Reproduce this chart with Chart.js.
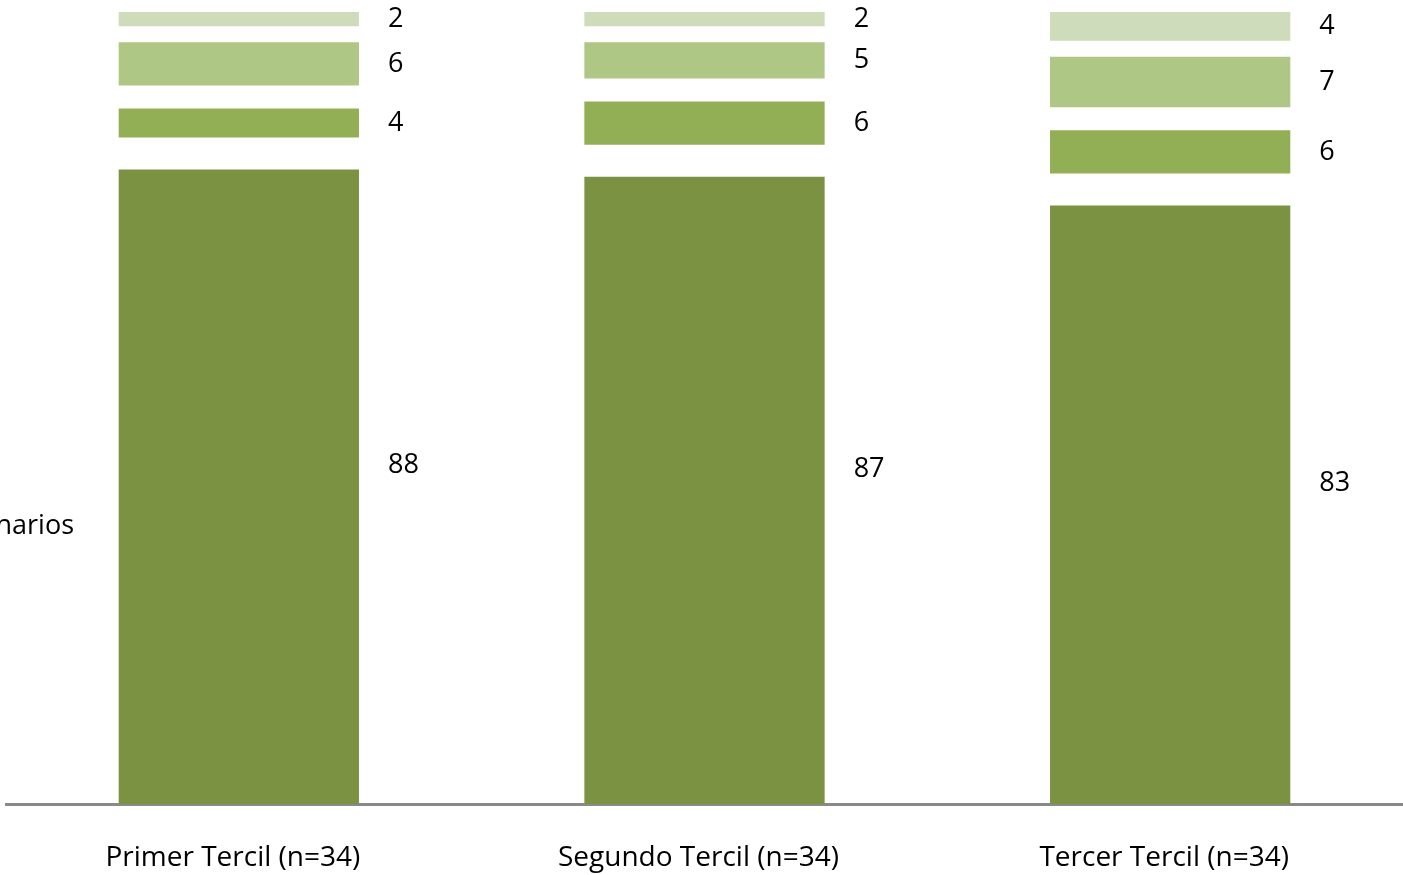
<!DOCTYPE html>
<html>
<head>
<meta charset="utf-8">
<script src="https://cdn.jsdelivr.net/npm/chart.js@4/dist/chart.umd.min.js"></script>
<style>
  html, body { margin:0; padding:0; background:#fff; }
  #wrap { width:1403px; height:875px; position:relative; }
</style>
</head>
<body>
<div id="wrap"><canvas id="terciles"></canvas></div>
<script>
// data
const categories = ['Primer Tercil (n=34)', 'Segundo Tercil (n=34)', 'Tercer Tercil (n=34)'];
const serie1 = [88, 87, 83];
const serie2 = [4, 6, 6];
const serie3 = [6, 5, 7];
const serie4 = [2, 2, 4];
const legendTail = 'narios'; // legend text, cut off at the left edge

const FONT = '"Open Sans", sans-serif';
const gaps = [32, 23, 16]; // white space between stacked pieces

// pull each upper piece up so the stack looks split apart
const splitStack = {
  id: 'splitStack',
  afterDatasetsUpdate(chart){
    let off = 0;
    chart.data.datasets.forEach((ds, d) => {
      if(d > 0) off += gaps[d-1] || 0;
      chart.getDatasetMeta(d).data.forEach(el => {
        el.y -= off;
        el.base -= off;
      });
    });
  }
};

const valueLabels = {
  id: 'valueLabels',
  afterDatasetsDraw(chart){
    const ctx = chart.ctx;
    ctx.save();
    ctx.font = '27px ' + FONT;
    ctx.fillStyle = '#000';
    ctx.textAlign = 'left';
    ctx.textBaseline = 'middle';
    chart.data.datasets.forEach((ds, d) => {
      chart.getDatasetMeta(d).data.forEach((el, i) => {
        const x = el.x + el.width/2 + 29;
        const y = (el.y + el.base)/2 + (d === 0 ? -21 : 0);
        ctx.fillText(String(ds.data[i]), x, y);
      });
    });
    ctx.textAlign = 'right';
    ctx.fillText(legendTail, 74, 526);
    ctx.restore();
  }
};

new Chart(document.getElementById('terciles'), {
  type: 'bar',
  data: {
    labels: categories,
    datasets: [
      { label: 'Serie 1', data: serie1, backgroundColor: '#7B9243' },
      { label: 'Serie 2', data: serie2, backgroundColor: '#93AF56' },
      { label: 'Serie 3', data: serie3, backgroundColor: '#AFC785' },
      { label: 'Serie 4', data: serie4, backgroundColor: '#CFDCBB' }
    ]
  },
  options: {
    responsive: true,
    maintainAspectRatio: false,
    animation: false,
    layout: { padding: { left: 6, right: 0, top: 0, bottom: 0 } },
    datasets: { bar: { barPercentage: 0.516, categoryPercentage: 1 } },
    plugins: { legend: { display: false }, tooltip: { enabled: false } },
    scales: {
      x: {
        stacked: true,
        grid: { display: false, drawTicks: false },
        border: { display: true, color: '#898989', width: 3 },
        ticks: { color: '#000', font: { family: FONT, size: 28 }, padding: 37, labelOffset: -6 },
        afterFit: (scale) => { scale.height = 71; }
      },
      y: {
        stacked: true,
        display: false,
        min: 0,
        max: 111.5
      }
    }
  },
  plugins: [splitStack, valueLabels]
});
</script>
</body>
</html>
